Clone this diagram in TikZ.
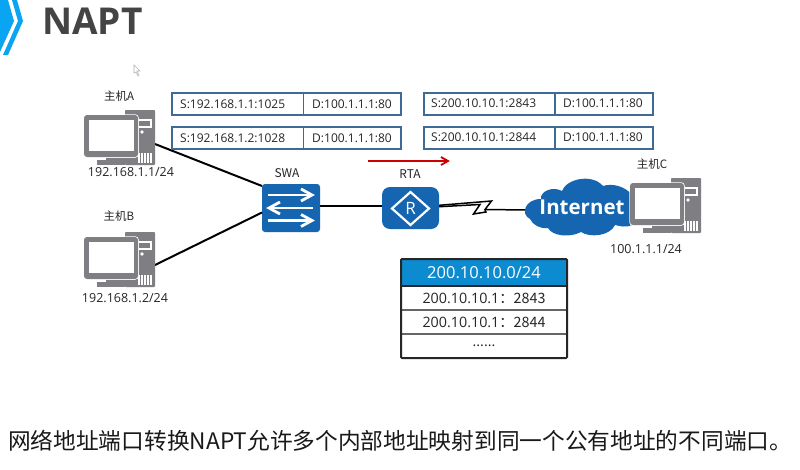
\documentclass[tikz,border=0pt]{standalone}
\usepackage{fontspec}
\setmainfont{Open Sans}
\newfontfamily\cjkf{Noto Sans CJK SC}
\definecolor{nblue}{HTML}{1565B0}
\definecolor{ngray}{HTML}{7F7E82}
\definecolor{boxedge}{HTML}{3F6A96}
\definecolor{thead}{HTML}{0D8BD0}
\definecolor{logoblue}{HTML}{0AA5F2}
\definecolor{titlegray}{HTML}{444444}
\newcommand{\fsz}[1]{\fontsize{#1}{#1}\selectfont}
\tikzset{
  x=1pt,y=-1pt,
  lbl/.style={inner sep=0pt,font=\fsz{11.5}\cjkf,text=black!85},
  addr/.style={inner sep=0pt,font=\fsz{12},text=black!85},
  abox/.style={draw=boxedge,line width=1.2pt,fill=white},
  link/.style={draw=black,line width=2pt},
  trow/.style={inner sep=0pt,font=\fsz{14.3},text=black!85},
  pc/.pic={
    \fill[ngray,rounded corners=.8] (41,-5) rectangle (71,50);
    \fill[white] (46,3.5) rectangle (68,13);
    \fill[ngray] (48,5.5) rectangle (66,11);
    \fill[white] (58,17) circle (1.8);
    \foreach \i in {54,57,60,63,66}{\fill[white] (\i,38) rectangle +(1.5,10);}
    \fill[ngray] (13,45) rectangle (41,50);
    \fill[ngray] (22,41) rectangle (41,46);
    \draw[white,line width=1.5pt,rounded corners=3] (0,0) rectangle (54,42);
    \fill[ngray,rounded corners=3] (0,0) rectangle (54,42);
    \fill[white] (4.5,5) rectangle (49.5,36);
  },
}
\begin{document}
\begin{tikzpicture}
\useasboundingbox (0,0) rectangle (800,469);
\fill[white] (0,0) rectangle (800,469);
% logo
\fill[logoblue] (12,0) -- (17,0) -- (23,21) -- (8,55) -- (3,55) -- (18,21) -- cycle;
\fill[logoblue] (0,0) -- (8,0) -- (14,21) -- (0,52) -- cycle;
\node[inner sep=0pt,anchor=west,text=titlegray,font=\fsz{37}\bfseries] (title) at (42,21) {NAPT};
% cursor
\draw[gray!60,line width=.6pt,fill=white] (134,65) -- (134,73) -- (136,72) -- (138,76) -- (139,75) -- (137,71) -- (140,71) -- cycle;
% devices
\coordinate (hA) at (155,144);
\coordinate (hB) at (155,265);
\node[fill=nblue,rounded corners=3,minimum width=58pt,minimum height=48pt,inner sep=0pt] (swa) at (291,208) {};
\node[fill=nblue,rounded corners=8,minimum width=57pt,minimum height=42pt,inner sep=0pt] (rta) at (410.5,208) {};
\coordinate (swaA) at (262,186);
\coordinate (swaB) at (262,212.5);
\coordinate (z1) at (491.5,201);
\coordinate (z2) at (485,209.5);
\coordinate (z3) at (480,204.5);
\coordinate (z4) at (473.5,214);
\coordinate (z5) at (486,212);
\coordinate (cloudL) at (527,210);
\draw[link] (hA) -- (swaA);
\draw[link] (hB) -- (swaB);
\draw[link] (swa.east |- 0,205.5) -- (rta.west |- 0,205.5);
\draw[black,line width=1.5pt,line join=miter] (rta.east |- 0,205.3) -- (z1) -- (z2) -- (cloudL);
\draw[black,line width=1.5pt,line join=miter] (rta.east |- 0,206.7) -- (z3) -- (z4) -- (z5) -- (z2 |- cloudL);
% switch arrows
\begin{scope}[white,line width=2.8pt]
\draw (268,195) -- (311,195);
\draw (301,189) -- (312,195) -- (301,201);
\draw (313,208) -- (270,208);
\draw (280,202) -- (269,208) -- (280,214);
\draw (268,220.5) -- (311,220.5);
\draw (301,214.5) -- (312,220.5) -- (301,226.5);
\end{scope}
% router
\draw[white,line width=2.2pt] (410.5,192) -- (429,208.5) -- (410.5,225) -- (392,208.5) -- cycle;
\node[inner sep=0pt,text=white,font=\fsz{17}] (rl) at (410.5,208.5) {R};
% cloud
\fill[nblue] (530,219) .. controls (520,214) and (525,199) .. (541,199)
 .. controls (540,191) and (553,186) .. (562,191)
 .. controls (566,179) and (592,173) .. (603,186)
 .. controls (612,183) and (625,186) .. (632,195)
 -- (632,225)
 .. controls (625,228) and (620,226) .. (615,225)
 .. controls (610,236) and (590,238) .. (581,232)
 .. controls (570,238) and (552,236) .. (548,228)
 .. controls (540,229) and (533,225) .. (530,219) -- cycle;
\node[inner sep=0pt,text=white,font=\fsz{20.5}\bfseries] (net) at (582,207) {Internet};
% hosts
\pic at (84,115) {pc};
\pic at (84,237) {pc};
\pic at (630,183) {pc};
% labels
\node[lbl] (la) at (119,96) {主机A};
\node[lbl] (lb) at (119,216) {主机B};
\node[lbl] (lc) at (652,164) {主机C};
\node[lbl] (ls) at (287,173.5) {\fsz{12}SWA};
\node[lbl] (lr) at (410,174.5) {\fsz{12}RTA};
\node[addr,font=\fsz{12.5}] (ia) at (131,172) {192.168.1.1/24};
\node[addr,font=\fsz{12.5}] (ib) at (125,298) {192.168.1.2/24};
\node[addr,font=\fsz{12.5}] (ic) at (646,249.5) {100.1.1.1/24};
% address boxes
\draw[abox] (172,93) rectangle (303.5,115);
\draw[abox] (303.5,93) rectangle (401,115);
\draw[abox] (172,127) rectangle (303.5,149);
\draw[abox] (303.5,127) rectangle (401,149);
\draw[abox] (424,93) rectangle (555,115);
\draw[abox] (555,93) rectangle (653,115);
\draw[abox] (424,127) rectangle (555,149);
\draw[abox] (555,127) rectangle (653,149);
\node[addr,anchor=west] (a1) at (180,104) {S:192.168.1.1:1025};
\node[addr,anchor=west] (a2) at (312,104) {D:100.1.1.1:80};
\node[addr,anchor=west] (a3) at (180,138) {S:192.168.1.2:1028};
\node[addr,anchor=west] (a4) at (312,138) {D:100.1.1.1:80};
\node[addr,anchor=west] (a5) at (431,103) {S:200.10.10.1:2843};
\node[addr,anchor=west] (a6) at (563,103) {D:100.1.1.1:80};
\node[addr,anchor=west] (a7) at (431,137) {S:200.10.10.1:2844};
\node[addr,anchor=west] (a8) at (563,137) {D:100.1.1.1:80};
% red arrow
\coordinate (ra) at (368,161);
\coordinate (rb) at (448,161);
\draw[red!80!black,line width=1.8pt] (ra) -- (rb);
\draw[red!80!black,line width=1.8pt] (441,157) -- (448,161) -- (441,165);
% table
\fill[thead] (401,259) rectangle (567,286);
\draw[gray!80!black,line width=1.3pt] (401,310) -- (567,310) (401,334) -- (567,334);
\draw[black!85,line width=1.6pt] (401,286) -- (567,286);
\draw[black!85,line width=2pt,rounded corners=1] (401,259) rectangle (567,358);
\node[trow,text=white,font=\fsz{16.5}] (t0) at (484,273) {200.10.10.0/24};
\node[trow] (t1) at (484,298) {200.10.10.1\cjkf{：}2843};
\node[trow] (t2) at (484,322) {200.10.10.1\cjkf{：}2844};
\node[trow] (t3) at (484,346) {......};
% caption
\node[inner sep=0pt,anchor=west,font=\fsz{22.7}\cjkf,text=black!90] (cap) at (8,441) {网络地址端口转换NAPT允许多个内部地址映射到同一个公有地址的不同端口。};
\end{tikzpicture}
\end{document}
